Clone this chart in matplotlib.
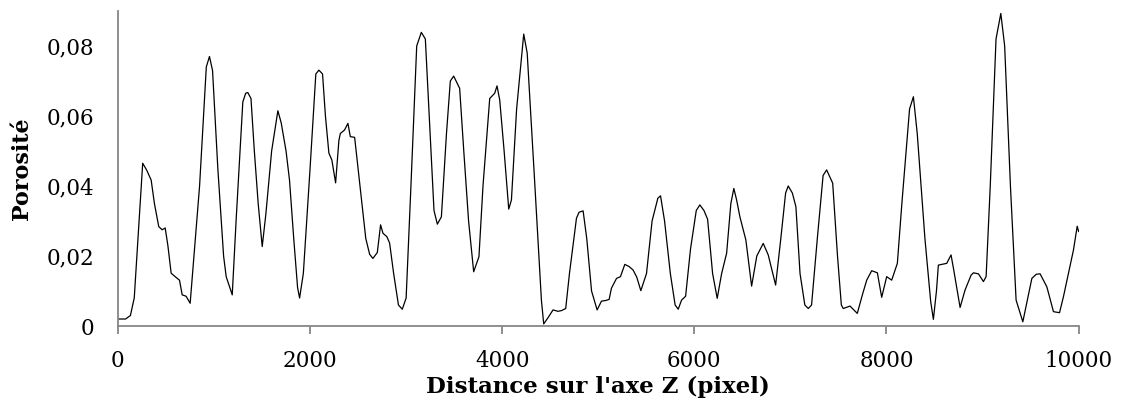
import matplotlib
matplotlib.use("Agg")
import matplotlib.pyplot as plt
from matplotlib.ticker import FuncFormatter

# porosity profile (distance in pixels, porosity)
distance = [
    0, 80, 130, 170, 258, 300, 346, 380, 425, 460, 492, 520, 554, 600, 641, 669, 710, 752,
    850, 920, 953, 985, 1040, 1100, 1127, 1190, 1230, 1300, 1330, 1352, 1385, 1420, 1460,
    1502, 1540, 1600, 1665, 1700, 1750, 1786, 1830, 1870, 1891, 1930, 2000, 2060, 2092,
    2130, 2160, 2196, 2227, 2266, 2300, 2315, 2359, 2394, 2419, 2464, 2520, 2580, 2620,
    2654, 2700, 2734, 2759, 2800, 2828, 2870, 2920, 2960, 3000, 3050, 3110, 3158, 3200,
    3240, 3290, 3325, 3367, 3420, 3460, 3495, 3557, 3600, 3650, 3703, 3758, 3800, 3870,
    3922, 3946, 3974, 4020, 4068, 4096, 4150, 4224, 4260, 4330, 4408, 4432, 4480, 4529,
    4580, 4617, 4661, 4700, 4773, 4800, 4842, 4880, 4930, 4988, 5033, 5080, 5113, 5137,
    5190, 5231, 5276, 5320, 5362, 5400, 5443, 5502, 5560, 5620, 5648, 5690, 5750, 5800,
    5832, 5867, 5909, 5960, 6020, 6057, 6100, 6138, 6190, 6238, 6284, 6336, 6380, 6411,
    6440, 6474, 6536, 6596, 6650, 6717, 6769, 6846, 6900, 6950, 6977, 7020, 7057, 7100,
    7150, 7186, 7220, 7280, 7340, 7377, 7440, 7490, 7530, 7550, 7620, 7696, 7750, 7794,
    7846, 7905, 7950, 8002, 8054, 8113, 8160, 8240, 8280, 8320, 8400, 8460, 8488, 8520,
    8540, 8627, 8672, 8700, 8766, 8818, 8880, 8905, 8957, 9009, 9037, 9080, 9140, 9190,
    9230, 9290, 9349, 9419, 9470, 9513, 9560, 9599, 9669, 9738, 9801, 9842, 9946, 9985,
    10000,
]
porosite = [
    0.0020, 0.0020, 0.0030, 0.0080, 0.0465, 0.0445, 0.0417, 0.0350, 0.0284, 0.0275, 0.0280,
    0.0230, 0.0151, 0.0140, 0.0131, 0.0089, 0.0085, 0.0065,
    0.0400, 0.0740, 0.0770, 0.0730, 0.0450, 0.0200, 0.0141, 0.0089, 0.0300, 0.0640, 0.0665,
    0.0667, 0.0650, 0.0500, 0.0350,
    0.0227, 0.0320, 0.0500, 0.0615, 0.0580, 0.0500, 0.0417, 0.0250, 0.0110, 0.0080, 0.0150,
    0.0450, 0.0720, 0.0731,
    0.0720, 0.0600, 0.0494, 0.0474, 0.0409, 0.0530, 0.0550, 0.0560, 0.0579, 0.0541, 0.0539,
    0.0400, 0.0250, 0.0205,
    0.0193, 0.0210, 0.0289, 0.0265, 0.0255, 0.0237, 0.0150, 0.0060, 0.0048, 0.0080, 0.0400,
    0.0800, 0.0839, 0.0820,
    0.0600, 0.0330, 0.0291, 0.0312, 0.0550, 0.0700, 0.0714, 0.0679, 0.0500, 0.0300, 0.0155,
    0.0198, 0.0400, 0.0650,
    0.0665, 0.0686, 0.0646, 0.0500, 0.0334, 0.0360, 0.0620, 0.0834, 0.0780, 0.0450, 0.0074,
    0.0006, 0.0025, 0.0046,
    0.0042, 0.0044, 0.0050, 0.0150, 0.0308, 0.0325, 0.0329, 0.0250, 0.0100, 0.0046, 0.0071,
    0.0073, 0.0076, 0.0108,
    0.0136, 0.0141, 0.0176, 0.0170, 0.0160, 0.0140, 0.0101, 0.0150, 0.0300, 0.0365, 0.0372,
    0.0300, 0.0150, 0.0060,
    0.0048, 0.0074, 0.0085, 0.0220, 0.0330, 0.0346, 0.0330, 0.0305, 0.0150, 0.0079, 0.0150,
    0.0208, 0.0350, 0.0393,
    0.0360, 0.0312, 0.0246, 0.0114, 0.0200, 0.0236, 0.0203, 0.0117, 0.0250, 0.0380, 0.0400,
    0.0380, 0.0341, 0.0150,
    0.0060, 0.0050, 0.0060, 0.0250, 0.0430, 0.0446, 0.0408, 0.0200, 0.0060, 0.0050, 0.0057,
    0.0036, 0.0090, 0.0131,
    0.0158, 0.0152, 0.0082, 0.0141, 0.0131, 0.0179, 0.0350, 0.0620, 0.0655, 0.0550, 0.0250,
    0.0070, 0.0019, 0.0100,
    0.0174, 0.0179, 0.0203, 0.0160, 0.0053, 0.0103, 0.0145, 0.0152, 0.0149, 0.0127, 0.0141,
    0.0400, 0.0820, 0.0893,
    0.0800, 0.0400, 0.0074, 0.0012, 0.0080, 0.0136, 0.0148, 0.0149, 0.0112, 0.0041, 0.0038,
    0.0084, 0.0217, 0.0285,
    0.0270,
]

x_ticks = [0, 2000, 4000, 6000, 8000, 10000]
y_ticks = [0, 0.02, 0.04, 0.06, 0.08]

plt.rcParams["font.family"] = ["DejaVu Serif"]
AXIS_GREY = "#868686"

fig = plt.figure(figsize=(11.23, 4.07), dpi=100)
ax = fig.add_axes([0.105, 0.199, 0.8555, 0.774])

ax.plot(distance, porosite, color="black", lw=0.9)

ax.set_xlim(0, 10000)
ax.set_ylim(0, 0.09)
ax.set_xticks(x_ticks)
ax.set_yticks(y_ticks)
ax.yaxis.set_major_formatter(FuncFormatter(
    lambda v, _: "0" if abs(v) < 1e-12 else f"{v:.2f}".replace(".", ",")))

for s in ("top", "right"):
    ax.spines[s].set_visible(False)
for s in ("left", "bottom"):
    ax.spines[s].set_color(AXIS_GREY)
    ax.spines[s].set_linewidth(1.3)

ax.tick_params(axis="x", direction="out", length=6, width=1.3, color=AXIS_GREY,
               labelsize=15.5, pad=11)
ax.tick_params(axis="y", length=0, labelsize=15.5, pad=17)

ax.set_xlabel("Distance sur l'axe Z (pixel)", fontsize=16.5, fontweight="bold", labelpad=3)
ax.set_ylabel("Porosité", fontsize=16, fontweight="bold", labelpad=10)

fig.savefig("out.png", dpi=100)
